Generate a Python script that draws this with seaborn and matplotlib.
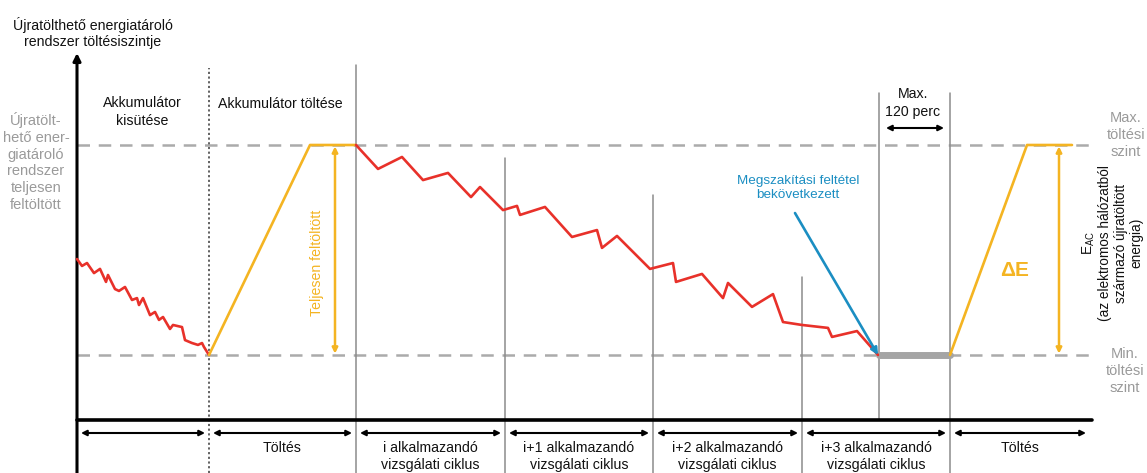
import numpy as np
import pandas as pd
import matplotlib
matplotlib.use("Agg")
import matplotlib.pyplot as plt
import seaborn as sns

# ---------------- data ----------------
# time axis in arbitrary units, state of charge in % between min (0) and max (100) level
discharge_t = [77, 82, 87, 94, 100, 106, 108, 115, 119, 125, 132, 137, 139, 143, 150, 155,
               159, 163, 170, 173, 182, 185, 192, 198, 202, 204, 209]
discharge_soc = [45.7, 42.4, 43.8, 39.0, 41.0, 34.8, 38.1, 31.4, 30.5, 32.4, 26.2, 27.1, 23.8,
                 27.1, 19.0, 20.5, 16.7, 18.1, 12.4, 14.3, 13.3, 7.1, 5.7, 4.8, 5.7, 3.8, 0.0]
charge1_t = [209, 310, 356]
charge1_soc = [0, 100, 100]
cycle_t = [356, 378, 402, 423, 448, 471, 480, 503, 517, 520, 545, 572, 597, 602, 617, 650,
           673, 676, 702, 723, 728, 752, 773, 783, 802, 828, 832, 857, 878]
cycle_soc = [100, 88.6, 94.3, 83.3, 86.7, 75.2, 80.0, 69.0, 71.0, 66.7, 70.5, 56.2, 59.5, 51.0,
             56.7, 41.0, 43.8, 34.8, 38.6, 27.1, 34.3, 22.9, 29.0, 15.7, 14.3, 12.9, 8.6, 11.4, 0.0]
break_t = [795, 878]
break_soc = [67.6, 0]
rest_t = [879, 950]
rest_soc = [0, 0]
charge2_t = [950, 1027, 1072]
charge2_soc = [0, 100, 100]
soc_max, soc_min = 100, 0

phase_bounds = [77, 209, 356, 505, 653, 802, 950, 1090]
phase_labels = ["", "Töltés", "i alkalmazandó\nvizsgálati ciklus",
                "i+1 alkalmazandó\nvizsgálati ciklus", "i+2 alkalmazandó\nvizsgálati ciklus",
                "i+3 alkalmazandó\nvizsgálati ciklus", "Töltés"]
cut_t = 879

# ---------------- style ----------------
sns.set_theme(style="white")
plt.rcParams['font.family'] = ['Liberation Sans', 'DejaVu Sans']

RED = "#e8312a"
YEL = "#f4b422"
BLUE = "#1b8ec2"
GRAY = "#ababab"
LGRAY = "#9a9a9a"
VGRAY = "#8c8c8c"
FS = 10.2


def Y(px):
    return (355 - px) / 2.1


fig = plt.figure(figsize=(11.47, 4.73), dpi=100)
ax = fig.add_axes([0, 0, 1, 1])

# reference levels
for lvl in (soc_max, soc_min):
    ax.plot([77, 1090], [lvl, lvl], color=GRAY, lw=1.8, ls=(0, (5, 3.5)), zorder=1)

# vertical separators
ax.plot([209, 209], [Y(473), Y(68)], color="#555555", lw=1.3, ls=(0, (1.2, 1.4)), zorder=2)
tops = {356: 65, 505: 158, 653: 195, 802: 277, 950: 93}
for x, top in tops.items():
    ax.plot([x, x], [Y(473), Y(top)], color=VGRAY, lw=1.1, zorder=2)
ax.plot([cut_t, cut_t], [Y(420), Y(93)], color=VGRAY, lw=1.1, zorder=2)


# series
def line(t, s, color, lw=1.9, z=4):
    df = pd.DataFrame({"t": t, "soc": s})
    sns.lineplot(data=df, x="t", y="soc", ax=ax, color=color, lw=lw, sort=False,
                 estimator=None, zorder=z)


line(discharge_t, discharge_soc, RED)
line(charge1_t, charge1_soc, YEL)
line(cycle_t, cycle_soc, RED)
line(charge2_t, charge2_soc, YEL)
line(rest_t, rest_soc, "#a5a5a5", lw=5, z=3)
ax.annotate("", xy=(break_t[1], break_soc[1]), xytext=(break_t[0], break_soc[0]),
            arrowprops=dict(arrowstyle="-|>", color=BLUE, lw=1.9, mutation_scale=10,
                            shrinkA=0, shrinkB=0), zorder=5)
ax.set_xlim(0, 1147)
ax.set_ylim(Y(473), Y(0))
ax.axis("off")

# yellow double arrows
for x in (335, 1059):
    ax.annotate("", xy=(x, soc_max), xytext=(x, soc_min),
                arrowprops=dict(arrowstyle="<|-|>", color=YEL, lw=1.8, mutation_scale=8,
                                shrinkA=1, shrinkB=1))

# axis and baseline
ax.annotate("", xy=(77, Y(53)), xytext=(77, Y(473)),
            arrowprops=dict(arrowstyle="-|>", color="black", lw=2.2, mutation_scale=11,
                            shrinkA=0, shrinkB=0))
ax.plot([77, 1092], [Y(420), Y(420)], color="black", lw=2.6, zorder=3)

# phase arrows
for i in range(len(phase_bounds) - 1):
    a, b = phase_bounds[i] + 4, phase_bounds[i + 1] - 4
    ax.annotate("", xy=(b, Y(433)), xytext=(a, Y(433)),
                arrowprops=dict(arrowstyle="<|-|>", color="black", lw=1.5, mutation_scale=8,
                                shrinkA=0, shrinkB=0))
    lab = phase_labels[i]
    if lab:
        ax.text((phase_bounds[i] + phase_bounds[i + 1]) / 2, Y(441), lab, ha="center",
                va="top", fontsize=FS, color="#111111", linespacing=1.25)

# max 120 perc arrow
ax.annotate("", xy=(944, Y(128)), xytext=(886, Y(128)),
            arrowprops=dict(arrowstyle="<|-|>", color="black", lw=1.5, mutation_scale=8,
                            shrinkA=0, shrinkB=0))
ax.text(913, Y(103), "Max.\n120 perc", ha="center", va="center", fontsize=FS,
        color="#111111", linespacing=1.3)

# texts
ax.text(93, Y(33), "Újratölthető energiatároló\nrendszer töltésiszintje", ha="center",
        va="center", fontsize=FS, color="#111111", linespacing=1.25)
ax.text(142, Y(112), "Akkumulátor\nkisütése", ha="center", va="center", fontsize=FS,
        color="#111111", linespacing=1.3)
ax.text(280, Y(104), "Akkumulátor töltése", ha="center", va="center", fontsize=FS,
        color="#111111")
ax.text(36, Y(162), "Újratölt-\nhető ener-\ngiatároló\nrendszer\nteljesen\nfeltöltött",
        ha="center", va="center", fontsize=10.5, color=LGRAY, linespacing=1.25)
ax.text(1126, Y(135), "Max.\ntöltési\nszint", ha="center", va="center", fontsize=10.5,
        color=LGRAY, linespacing=1.25)
ax.text(1125, Y(371), "Min.\ntöltési\nszint", ha="center", va="center", fontsize=10.5,
        color=LGRAY, linespacing=1.25)
ax.text(317, Y(263), "Teljesen feltöltött", rotation=90, ha="center", va="center",
        fontsize=FS, color=YEL)
ax.text(1015, Y(270), "ΔE", ha="center", va="center", fontsize=15, fontweight="bold",
        color=YEL)
ax.text(1112, Y(243), "E$_{\\mathregular{AC}}$\n(az elektromos hálózatból\nszármazó újratöltött\nenergia)",
        rotation=90, ha="center", va="center", fontsize=9.8, color="#111111",
        linespacing=1.15, multialignment="center")
ax.text(798, Y(188), "Megszakítási feltétel\nbekövetkezett", ha="center", va="center",
        fontsize=9.7, color=BLUE, linespacing=1.25)

fig.savefig("out.png", dpi=100)
